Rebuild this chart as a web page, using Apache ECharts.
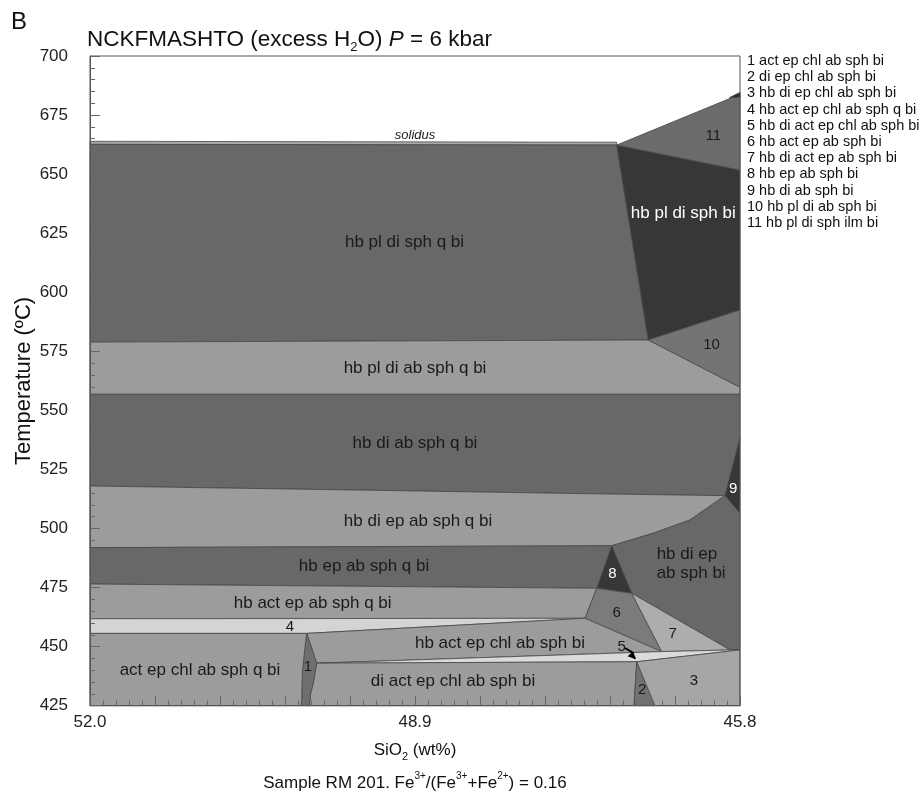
<!DOCTYPE html>
<html>
<head>
<meta charset="utf-8">
<script src="https://cdn.jsdelivr.net/npm/echarts@6/dist/echarts.min.js"></script>
<style>
html, body { margin: 0; padding: 0; background: #fff; }
#chart { width: 921px; height: 794px; }
</style>
</head>
<body>
<div id="chart"></div>
<script>
// SiO2 (wt%) runs from high silica on the left to low silica on the right
const silicaRange = [45.8, 52.0];
const silicaLabels = [52.0, 48.9, 45.8];
const tempRange = [425, 700];
const tempStep = 25;

// Phase field outlines as [SiO2 wt%, T °C] vertices
const solidusBand      = [[52.0, 663.9], [46.976, 663.5], [46.976, 662.3], [52.0, 662.6]];
const hbPlDiSphQBi     = [[52.0, 662.6], [46.976, 662.3], [46.675, 579.8], [52.0, 578.9]];
const hbPlDiSphBi      = [[46.976, 662.3], [45.8, 651.7], [45.8, 592.5], [46.675, 579.8]];
const field11          = [[46.976, 662.3], [45.8, 683.8], [45.8, 651.7]];
const field11Tip       = [[45.9, 682.4], [45.8, 684.6], [45.8, 682.6]];
const hbPlDiAbSphQBi   = [[52.0, 578.9], [46.675, 579.8], [45.8, 559.8], [45.8, 556.8], [52.0, 556.8]];
const field10          = [[46.675, 579.8], [45.8, 592.5], [45.8, 559.8]];
const hbDiAbSphQBi     = [[52.0, 556.8], [45.8, 556.8], [45.8, 538.2], [45.943, 513.9], [47.517, 514.9], [49.043, 516.0], [52.0, 518.0]];
const field9           = [[45.943, 513.9], [45.8, 538.2], [45.8, 506.4]];
const hbDiEpAbSphQBi   = [[52.0, 518.0], [49.043, 516.0], [47.517, 514.9], [45.943, 513.9], [46.277, 503.6], [46.627, 498.0], [47.024, 492.7], [52.0, 491.9]];
const hbDiEpAbSphBi    = [[47.024, 492.7], [46.627, 498.0], [46.277, 503.6], [45.943, 513.9], [45.8, 506.4], [45.8, 448.6], [45.895, 448.6], [46.833, 472.6]];
const field8           = [[47.024, 492.7], [46.833, 472.6], [47.167, 474.7]];
const hbEpAbSphQBi     = [[52.0, 491.9], [47.024, 492.7], [47.167, 474.7], [52.0, 476.5]];
const hbActEpAbSphQBi  = [[52.0, 476.5], [47.167, 474.7], [47.278, 462.0], [52.0, 461.8]];
const field6           = [[47.278, 462.0], [47.167, 474.7], [46.833, 472.6], [46.547, 447.9]];
const field7           = [[46.833, 472.6], [46.547, 447.9], [45.895, 448.6]];
const field4           = [[52.0, 461.8], [47.278, 462.0], [49.933, 455.6], [52.0, 455.6]];
const hbActEpChlAbSphBi = [[49.933, 455.6], [47.278, 462.0], [46.547, 447.9], [49.838, 443.0]];
const field5           = [[49.838, 443.0], [46.547, 447.9], [45.895, 448.6], [45.8, 448.6], [46.785, 443.6]];
const diActEpChlAbSphBi = [[49.838, 443.0], [46.785, 443.6], [46.811, 425.0], [49.908, 425.0], [49.895, 430.3], [49.870, 434.5]];
const field1           = [[49.933, 455.6], [49.838, 443.0], [49.870, 434.5], [49.895, 430.3], [49.908, 425.0], [49.987, 425.0], [49.981, 427.4], [49.975, 438.7], [49.956, 447.2]];
const actEpChlAbSphQBi = [[52.0, 455.6], [49.933, 455.6], [49.956, 447.2], [49.975, 438.7], [49.981, 427.4], [49.987, 425.0], [52.0, 425.0]];
const field2           = [[46.785, 443.6], [46.611, 425.0], [46.811, 425.0]];
const field3           = [[46.785, 443.6], [45.8, 448.6], [45.8, 425.0], [46.611, 425.0]];

// Field names placed at [SiO2, T]
const fieldNames = [
  [49.0, 621.0, 'hb pl di sph q bi'],
  [46.341, 633.5, 'hb pl di sph bi'],
  [46.055, 666.1, '11'],
  [48.9, 567.9, 'hb pl di ab sph q bi'],
  [46.071, 577.7, '10'],
  [48.9, 536.1, 'hb di ab sph q bi'],
  [45.864, 516.6, '9'],
  [48.871, 502.9, 'hb di ep ab sph q bi'],
  [49.386, 483.8, 'hb ep ab sph q bi'],
  [47.018, 480.7, '8'],
  [49.876, 468.3, 'hb act ep ab sph q bi'],
  [46.976, 464.5, '6'],
  [50.092, 458.5, '4'],
  [46.442, 455.6, '7'],
  [48.089, 451.4, 'hb act ep chl ab sph bi'],
  [46.928, 450.0, '5'],
  [50.951, 440.1, 'act ep chl ab sph q bi'],
  [49.921, 441.4, '1'],
  [48.538, 435.2, 'di act ep chl ab sph bi'],
  [46.732, 431.6, '2'],
  [46.239, 435.6, '3']
];
const twoLineName = [46.595, 485.2, 'hb di ep\nab sph bi'];
const solidusName = [48.9, 666.6, 'solidus'];
const arrow5 = [[46.895, 449.4], [46.800, 444.8]];

const legendLines = [
  '1 act ep chl ab sph bi',
  '2 di ep chl ab sph bi',
  '3 hb di ep chl ab sph bi',
  '4 hb act ep chl ab sph q bi',
  '5 hb di act ep chl ab sph bi',
  '6 hb act ep ab sph bi',
  '7 hb di act ep ab sph bi',
  '8 hb ep ab sph bi',
  '9 hb di ab sph bi',
  '10 hb pl di ab sph bi',
  '11 hb pl di sph ilm bi'
];

// Drawing order and fills
const DARK = '#686868', LIGHT = '#9c9c9c', DARKEST = '#373737';
const fields = [
  { pts: solidusBand, fill: '#a9a9a9' },
  { pts: hbPlDiSphQBi, fill: DARK },
  { pts: hbPlDiSphBi, fill: DARKEST },
  { pts: field11, fill: '#6b6b6b' },
  { pts: field11Tip, fill: '#2a2a2a' },
  { pts: hbPlDiAbSphQBi, fill: LIGHT },
  { pts: field10, fill: '#747474' },
  { pts: hbDiAbSphQBi, fill: DARK },
  { pts: field9, fill: DARKEST },
  { pts: hbDiEpAbSphQBi, fill: LIGHT },
  { pts: hbDiEpAbSphBi, fill: DARK },
  { pts: field8, fill: DARKEST },
  { pts: hbEpAbSphQBi, fill: DARK },
  { pts: hbActEpAbSphQBi, fill: LIGHT },
  { pts: field6, fill: '#7b7b7b' },
  { pts: field7, fill: '#adadad' },
  { pts: field4, fill: '#d4d4d4' },
  { pts: hbActEpChlAbSphBi, fill: LIGHT },
  { pts: field5, fill: '#dadada' },
  { pts: diActEpChlAbSphBi, fill: LIGHT },
  { pts: field1, fill: '#6f6f6f' },
  { pts: actEpChlAbSphQBi, fill: LIGHT },
  { pts: field2, fill: '#717171' },
  { pts: field3, fill: '#a6a6a6' }
];
const whiteNames = new Set(['hb pl di sph bi', '9', '8']);

const FONT = '"Liberation Sans", Arial, Helvetica, sans-serif';

// Tick positions: ten major divisions, five minor steps in each
const majorTicks = [], minorTicks = [];
const span = silicaRange[1] - silicaRange[0];
for (let k = 0; k <= 50; k++) {
  const v = +(silicaRange[0] + span * k / 50).toFixed(4);
  if (k % 5 === 0) majorTicks.push(v); else minorTicks.push(v);
}

const chart = echarts.init(document.getElementById('chart'), null, { renderer: 'canvas' });

const baseX = {
  type: 'value', gridIndex: 0, min: silicaRange[0], max: silicaRange[1],
  inverse: true, position: 'bottom', z: 10,
  splitLine: { show: false }
};

chart.setOption({
  backgroundColor: '#ffffff',
  animation: false,
  grid: {
    left: 90, top: 56, width: 650, height: 649.7,
    show: true, borderColor: '#555', borderWidth: 1, z: 10,
    backgroundColor: 'transparent'
  },
  xAxis: [
    Object.assign({}, baseX, {
      axisLine: { show: true, lineStyle: { color: '#555', width: 1 } },
      axisTick: { show: true, inside: true, length: 10, customValues: majorTicks, lineStyle: { color: '#666', width: 1 } },
      axisLabel: {
        customValues: silicaLabels, formatter: v => v.toFixed(1),
        fontSize: 17, color: '#222', margin: 8, fontFamily: FONT
      }
    }),
    Object.assign({}, baseX, {
      axisLine: { show: false },
      axisTick: { show: true, inside: true, length: 5, customValues: minorTicks, lineStyle: { color: '#666', width: 1 } },
      axisLabel: { show: false }
    })
  ],
  yAxis: {
    type: 'value', min: tempRange[0], max: tempRange[1], interval: tempStep, z: 10,
    axisLine: { show: true, lineStyle: { color: '#555', width: 1 } },
    axisTick: { show: true, inside: true, length: 10, lineStyle: { color: '#666', width: 1 } },
    minorTick: { show: true, splitNumber: 5, length: 5, lineStyle: { color: '#666', width: 1 } },
    axisLabel: { fontSize: 17, color: '#222', margin: 22, fontFamily: FONT },
    splitLine: { show: false }, minorSplitLine: { show: false }
  },
  series: [
    {
      type: 'custom', name: 'fields', xAxisIndex: 0, yAxisIndex: 0, z: 2,
      data: fields.map(f => f.pts[0]),
      renderItem: function (params, api) {
        const f = fields[params.dataIndex];
        return {
          type: 'polygon',
          shape: { points: f.pts.map(p => api.coord(p)) },
          style: { fill: f.fill, stroke: '#474747', lineWidth: 0.8 }
        };
      }
    },
    {
      type: 'custom', name: 'names', xAxisIndex: 0, yAxisIndex: 0, z: 5,
      data: fieldNames.map(n => [n[0], n[1]]),
      renderItem: function (params, api) {
        const n = fieldNames[params.dataIndex];
        const p = api.coord([n[0], n[1]]);
        const isNum = /^\d+$/.test(n[2]);
        return {
          type: 'text', x: p[0], y: p[1],
          style: {
            text: n[2], fill: whiteNames.has(n[2]) ? '#ffffff' : '#1a1a1a',
            fontSize: isNum ? 15 : 17, fontFamily: FONT,
            align: 'center', verticalAlign: 'middle'
          }
        };
      }
    },
    {
      type: 'custom', name: 'extras', xAxisIndex: 0, yAxisIndex: 0, z: 5,
      data: [twoLineName.slice(0, 2)],
      renderItem: function (params, api) {
        const p = api.coord([twoLineName[0], twoLineName[1]]);
        const s = api.coord([solidusName[0], solidusName[1]]);
        const a0 = api.coord(arrow5[0]);
        const a1 = api.coord(arrow5[1]);
        const ang = Math.atan2(a1[1] - a0[1], a1[0] - a0[0]);
        const h = 8;
        const head = [
          a1,
          [a1[0] - h * Math.cos(ang - 0.5), a1[1] - h * Math.sin(ang - 0.5)],
          [a1[0] - h * Math.cos(ang + 0.5), a1[1] - h * Math.sin(ang + 0.5)]
        ];
        return {
          type: 'group',
          children: [
            {
              type: 'text', x: p[0], y: p[1],
              style: {
                text: twoLineName[2], fill: '#1a1a1a', fontSize: 17, lineHeight: 19,
                fontFamily: FONT, align: 'left', verticalAlign: 'middle'
              }
            },
            {
              type: 'text', x: s[0], y: s[1],
              style: {
                text: solidusName[2], fill: '#1a1a1a', fontSize: 13, fontStyle: 'italic',
                fontFamily: FONT, align: 'center', verticalAlign: 'middle'
              }
            },
            {
              type: 'polyline',
              shape: { points: [a0, [(a0[0] + a1[0]) / 2 + 1.5, (a0[1] + a1[1]) / 2 - 1.5], a1] },
              style: { stroke: '#000', lineWidth: 2, fill: null }
            },
            { type: 'polygon', shape: { points: head }, style: { fill: '#000' } }
          ]
        };
      }
    }
  ],
  graphic: [
    {
      type: 'text', left: 11, top: 10,
      style: { text: 'B', fontSize: 24, fontFamily: FONT, fill: '#111' }
    },
    {
      type: 'text', x: 87, y: 40,
      style: {
        text: '{n|NCKFMASHTO (excess H}{s|2}{n|O) }{i|P}{n| = 6 kbar}',
        verticalAlign: 'middle', align: 'left',
        rich: {
          n: { fontSize: 22.5, fontFamily: FONT, fill: '#111', lineHeight: 28 },
          s: { fontSize: 13, fontFamily: FONT, fill: '#111', lineHeight: 28, verticalAlign: 'bottom' },
          i: { fontSize: 22.5, fontFamily: FONT, fill: '#111', lineHeight: 28, fontStyle: 'italic' }
        }
      }
    },
    {
      type: 'text', x: 747, y: 52.9,
      style: {
        text: legendLines.join('\n'), fontSize: 14.5, lineHeight: 16.2,
        fontFamily: FONT, fill: '#111', align: 'left', verticalAlign: 'top'
      }
    },
    {
      type: 'text', x: 24, y: 381, rotation: Math.PI / 2,
      style: {
        text: 'Temperature (ºC)', fontSize: 22, fontFamily: FONT, fill: '#111',
        align: 'center', verticalAlign: 'middle'
      }
    },
    {
      type: 'text', x: 415, y: 750,
      style: {
        text: '{n|SiO}{s|2}{n| (wt%)}', align: 'center', verticalAlign: 'middle',
        rich: {
          n: { fontSize: 17, fontFamily: FONT, fill: '#111', lineHeight: 24 },
          s: { fontSize: 11, fontFamily: FONT, fill: '#111', lineHeight: 24, verticalAlign: 'bottom' }
        }
      }
    },
    {
      type: 'text', x: 415, y: 783,
      style: {
        text: '{n|Sample RM 201. Fe}{u|3+}{n|/(Fe}{u|3+}{n|+Fe}{u|2+}{n|) = 0.16}',
        align: 'center', verticalAlign: 'middle',
        rich: {
          n: { fontSize: 17, fontFamily: FONT, fill: '#111', lineHeight: 24 },
          u: { fontSize: 10, fontFamily: FONT, fill: '#111', lineHeight: 24, verticalAlign: 'top' }
        }
      }
    }
  ]
});
</script>
</body>
</html>
